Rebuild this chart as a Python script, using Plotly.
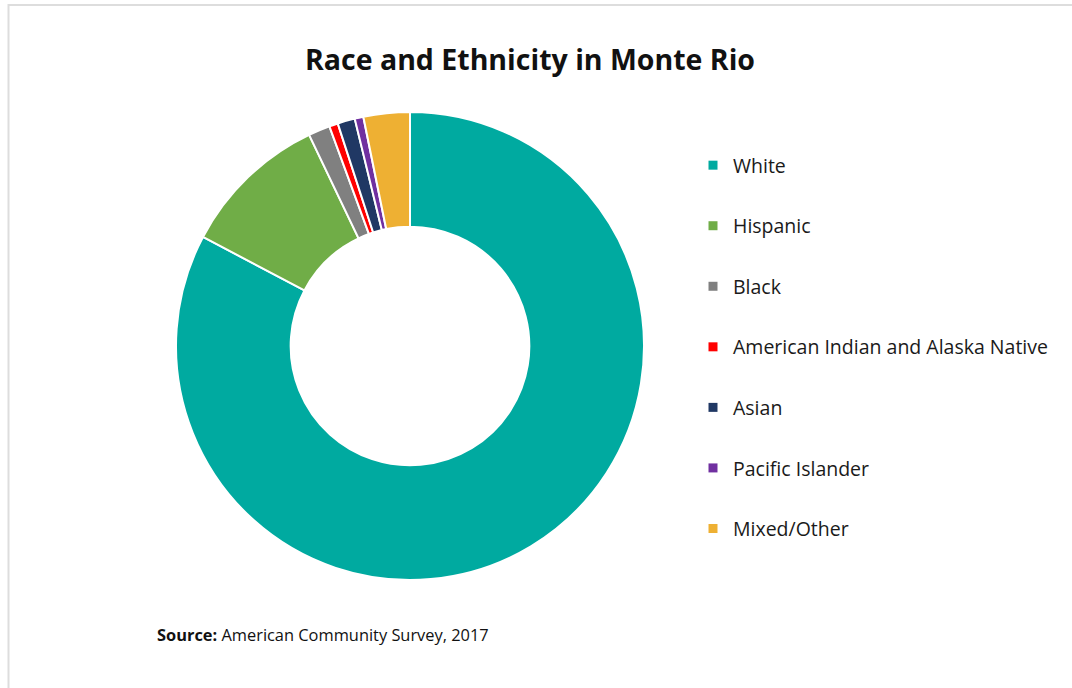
import plotly.graph_objects as go

categories = ["White", "Hispanic", "Black", "American Indian and Alaska Native",
              "Asian", "Pacific Islander", "Mixed/Other"]
shares = [82.8, 10.2, 1.5, 0.6, 1.2, 0.6, 3.2]
colors = ["#00AAA0", "#70AD47", "#808080", "#FF0000", "#203864", "#7030A0", "#EEB033"]

W, H = 1072, 688
FONT = "'Open Sans', Lato, sans-serif"

fig = go.Figure()
fig.add_trace(go.Pie(
    labels=categories, values=shares, hole=0.51, sort=False,
    direction="clockwise", rotation=0,
    marker=dict(colors=colors, line=dict(color="white", width=2)),
    textinfo="none", showlegend=False,
    domain=dict(x=[176 / W, 644 / W], y=[108 / H, 576 / H]),
))
# legend entries
for c, col in zip(categories, colors):
    fig.add_trace(go.Scatter(
        x=[None], y=[None], mode="markers", name=c, legendgroup=c,
        marker=dict(symbol="square", size=9, color=col),
        hoverinfo="skip",
    ))

fig.add_shape(type="rect", xref="paper", yref="paper",
              x0=8.5 / W, x1=1.02, y0=-0.02, y1=1 - 5 / H,
              line=dict(color="#DDDDDD", width=2), layer="below")

fig.add_annotation(text="<b>Race and Ethnicity in Monte Rio</b>", x=530 / W, y=1 - 59 / H,
                   xref="paper", yref="paper", xanchor="center", yanchor="middle",
                   showarrow=False, font=dict(family=FONT, size=28.5, color="#111111"))
fig.add_annotation(text="<b>Source:</b> American Community Survey, 2017", x=155 / W, y=1 - 634 / H,
                   xref="paper", yref="paper", xanchor="left", yanchor="middle",
                   showarrow=False, font=dict(family=FONT, size=16.4, color="#111111"))

fig.update_layout(
    width=W, height=H, margin=dict(l=0, r=0, t=0, b=0),
    paper_bgcolor="white", plot_bgcolor="white",
    xaxis=dict(visible=False), yaxis=dict(visible=False),
    showlegend=True,
    legend=dict(x=693 / W, y=1 - 146 / H, xanchor="left", yanchor="top",
                font=dict(family=FONT, size=19.5, color="#1a1a1a"),
                tracegroupgap=32.2, traceorder="grouped", bgcolor="rgba(0,0,0,0)"),
)
fig.write_html("out.html")
